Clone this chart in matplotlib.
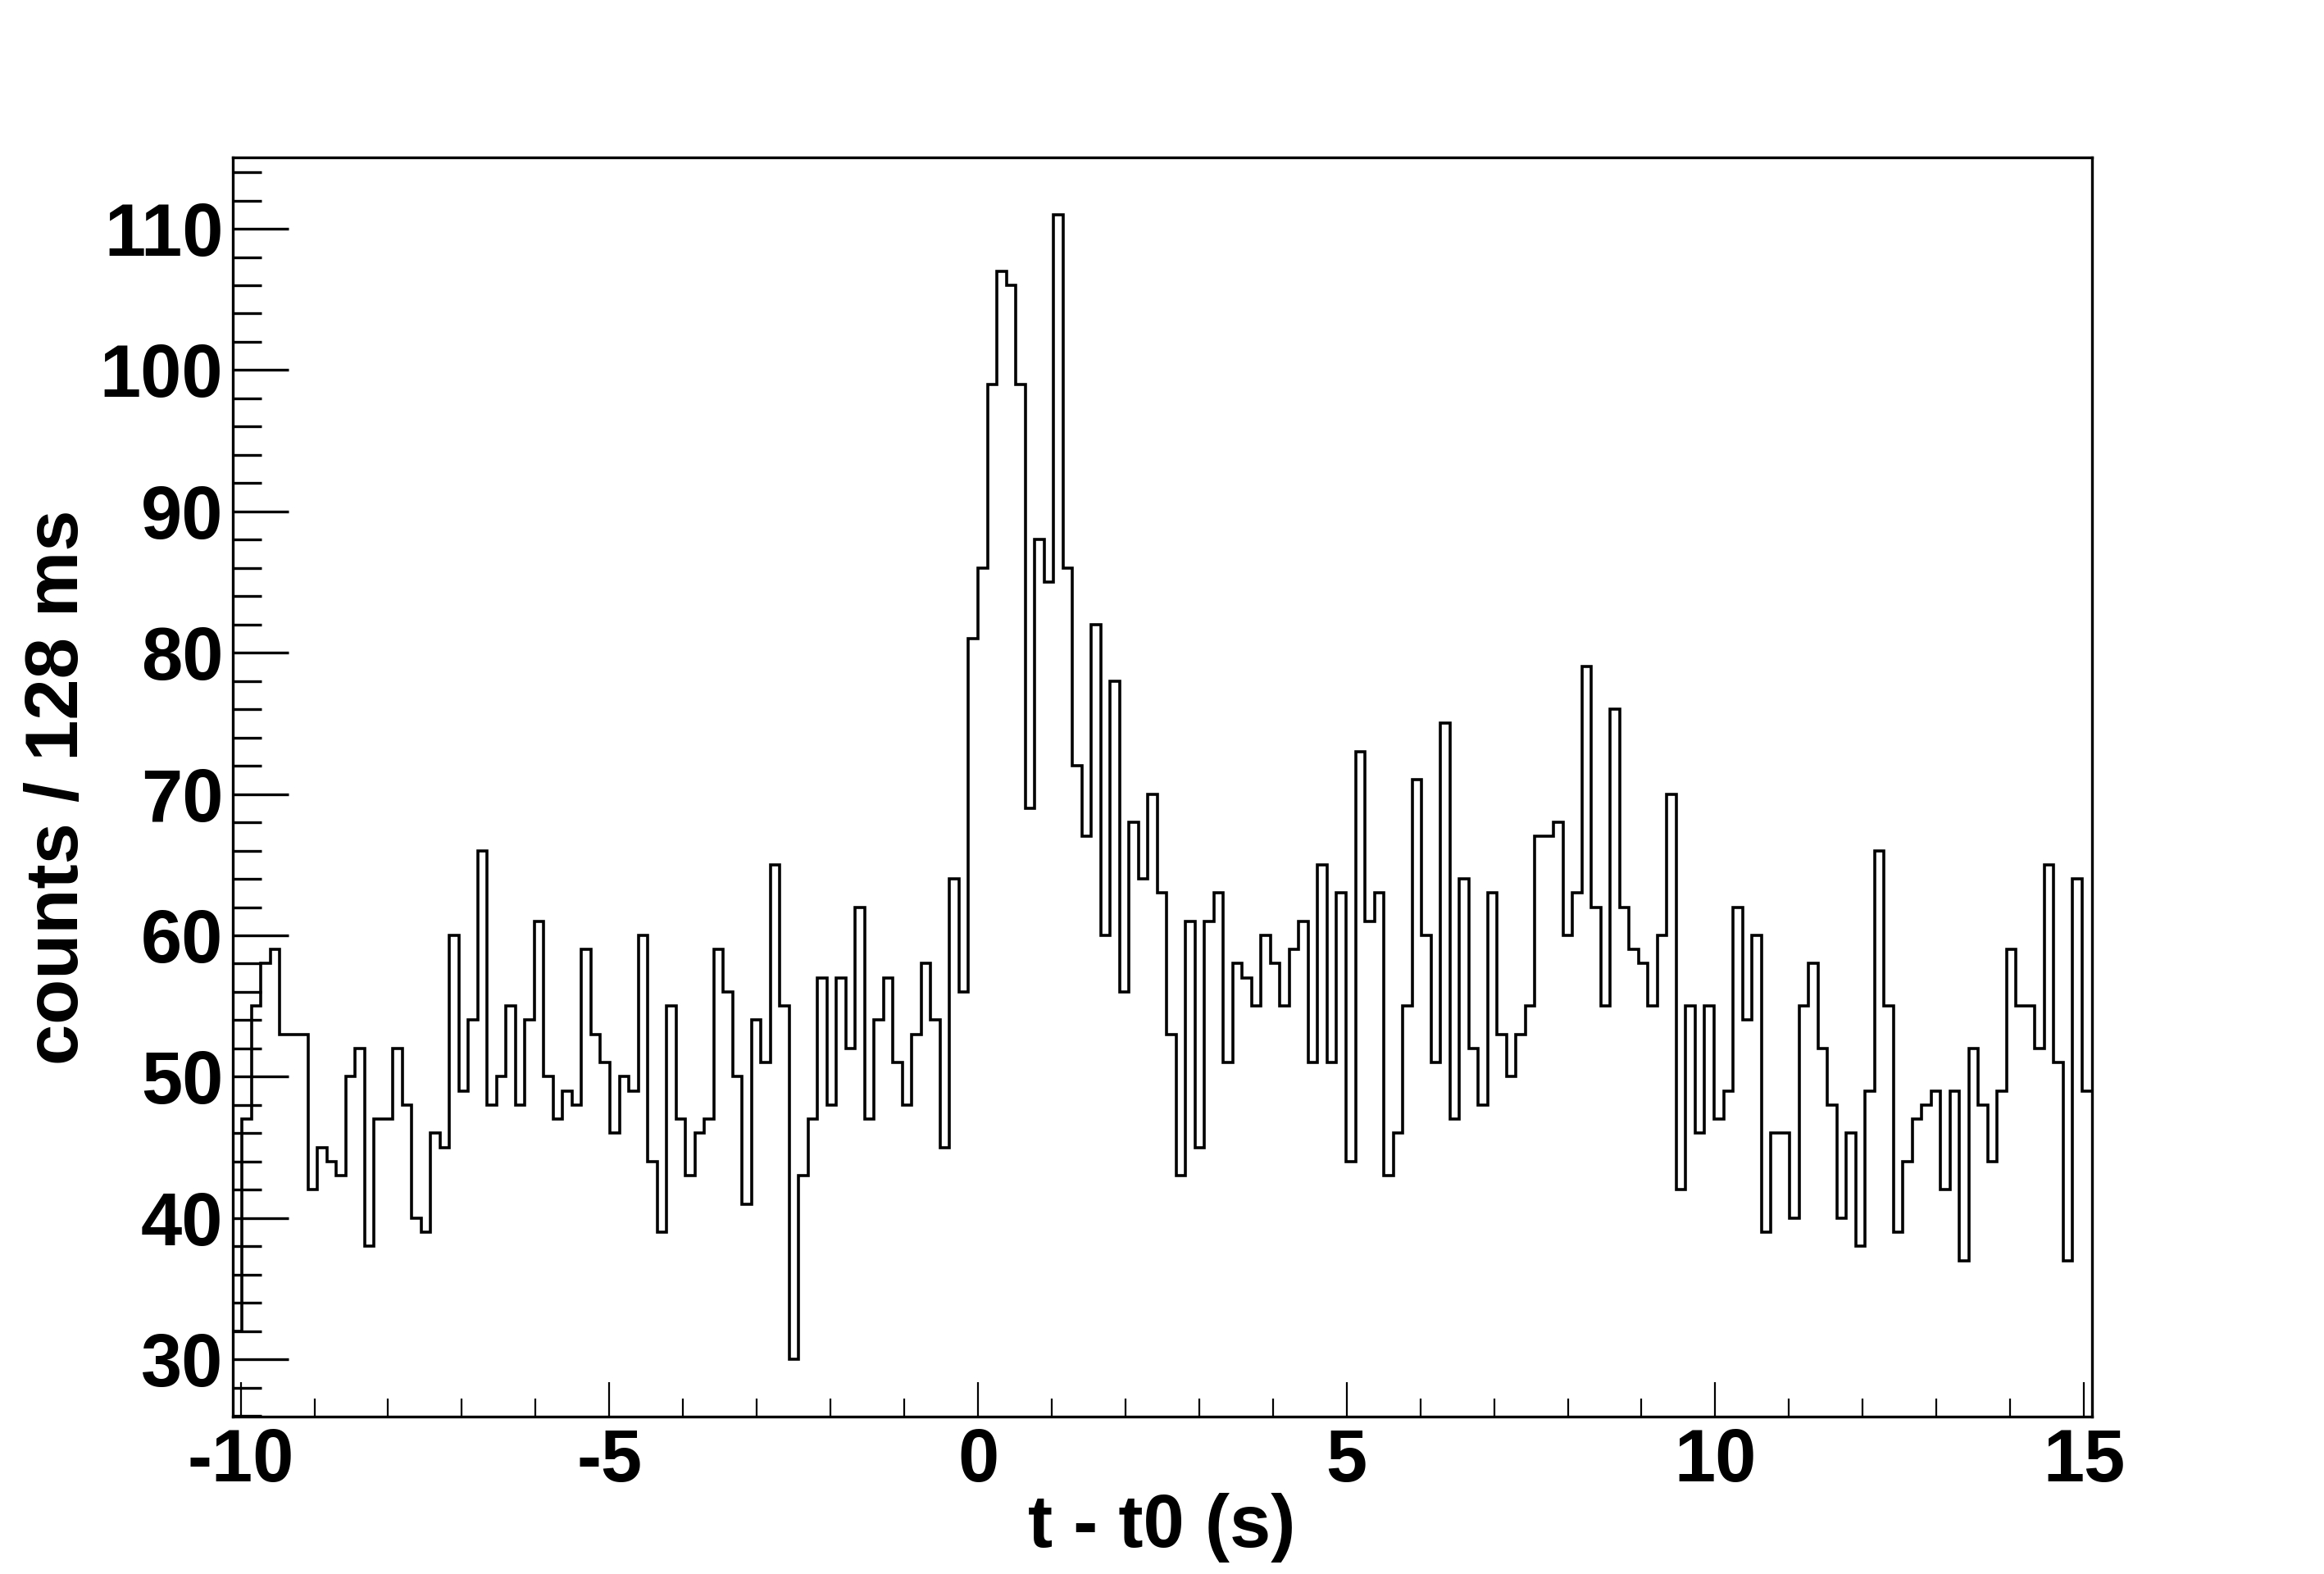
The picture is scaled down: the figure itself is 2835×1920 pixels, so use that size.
import matplotlib
matplotlib.use("Agg")
import matplotlib.pyplot as plt
import numpy as np
from matplotlib.ticker import MultipleLocator

# counts per 128 ms bin, first bin starts at -79 * 0.128 s
bin_width = 0.128
first_bin = -79
counts = [
    32,
    47, 55, 58, 59, 53, 53, 53, 42, 45, 44, 43, 50, 52, 38, 47, 47, 52, 48, 40, 39,
    46, 45, 60, 49, 54, 66, 48, 50, 55, 48, 54, 61, 50, 47, 49, 48, 59, 53, 51, 46,
    50, 49, 60, 44, 39, 55, 47, 43, 46, 47, 59, 56, 50, 41, 54, 51, 65, 55, 30, 43,
    47, 57, 48, 57, 52, 62, 47, 54, 57, 51, 48, 53, 58, 54, 45, 64, 56, 81, 86, 99,
    107, 106, 99, 69, 88, 85, 111, 86, 72, 67, 82, 60, 78, 56, 68, 64, 70, 63, 53, 43,
    61, 45, 61, 63, 51, 58, 57, 55, 60, 58, 55, 59, 61, 51, 65, 51, 63, 44, 73, 61,
    63, 43, 46, 55, 71, 60, 51, 75, 47, 64, 52, 48, 63, 53, 50, 53, 55, 67, 67, 68,
    60, 63, 79, 62, 55, 76, 62, 59, 58, 55, 60, 70, 42, 55, 46, 55, 47, 49, 62, 54,
    60, 39, 46, 46, 40, 55, 58, 52, 48, 40, 46, 38, 49, 66, 55, 39, 44, 47, 48, 49,
    42, 49, 37, 52, 48, 44, 49, 59, 55, 55, 52, 65, 51, 37, 64, 49,
]
edges = (first_bin + np.arange(len(counts) + 1)) * bin_width

plt.rcParams['font.family'] = ['Liberation Sans', 'DejaVu Sans']
plt.rcParams['font.weight'] = 'bold'
plt.rcParams['axes.unicode_minus'] = False

fig = plt.figure(figsize=(28.35, 19.2), dpi=100)
ax = fig.add_axes([0.1, 0.1, 0.8, 0.8])

ax.stairs(counts, edges, baseline=None, color='black', linewidth=2.6)

# ROOT style: x range = histogram range, y range padded by 5 %
ax.set_xlim(edges[0], edges[-1])
lo, hi = 30, max(counts)
ax.set_ylim(lo - 0.05 * (hi - lo), hi + 0.05 * (hi - lo))

ax.xaxis.set_major_locator(MultipleLocator(5))
ax.xaxis.set_minor_locator(MultipleLocator(1))
ax.yaxis.set_major_locator(MultipleLocator(10))
ax.yaxis.set_minor_locator(MultipleLocator(2))

ax.tick_params(axis='both', which='both', direction='in', top=False, right=False,
               labelsize=65)
ax.tick_params(axis='x', which='major', length=30, width=1.6, pad=9)
ax.tick_params(axis='x', which='minor', length=16, width=1.6)
ax.tick_params(axis='y', which='major', length=49, width=2.4, pad=8)
ax.tick_params(axis='y', which='minor', length=25, width=2.4)

for s in ax.spines.values():
    s.set_linewidth(2.4)

ax.set_xlabel('t - t0 (s)', fontsize=65, fontweight='bold')
ax.set_ylabel('counts / 128 ms', fontsize=65, fontweight='bold')
ax.xaxis.set_label_coords(0.5, -0.0885)
ax.xaxis.label.set_va('center')
ax.yaxis.set_label_coords(-0.0933, 0.5)
ax.yaxis.label.set_va('center')

fig.savefig('out.png', dpi=100, facecolor='white')
